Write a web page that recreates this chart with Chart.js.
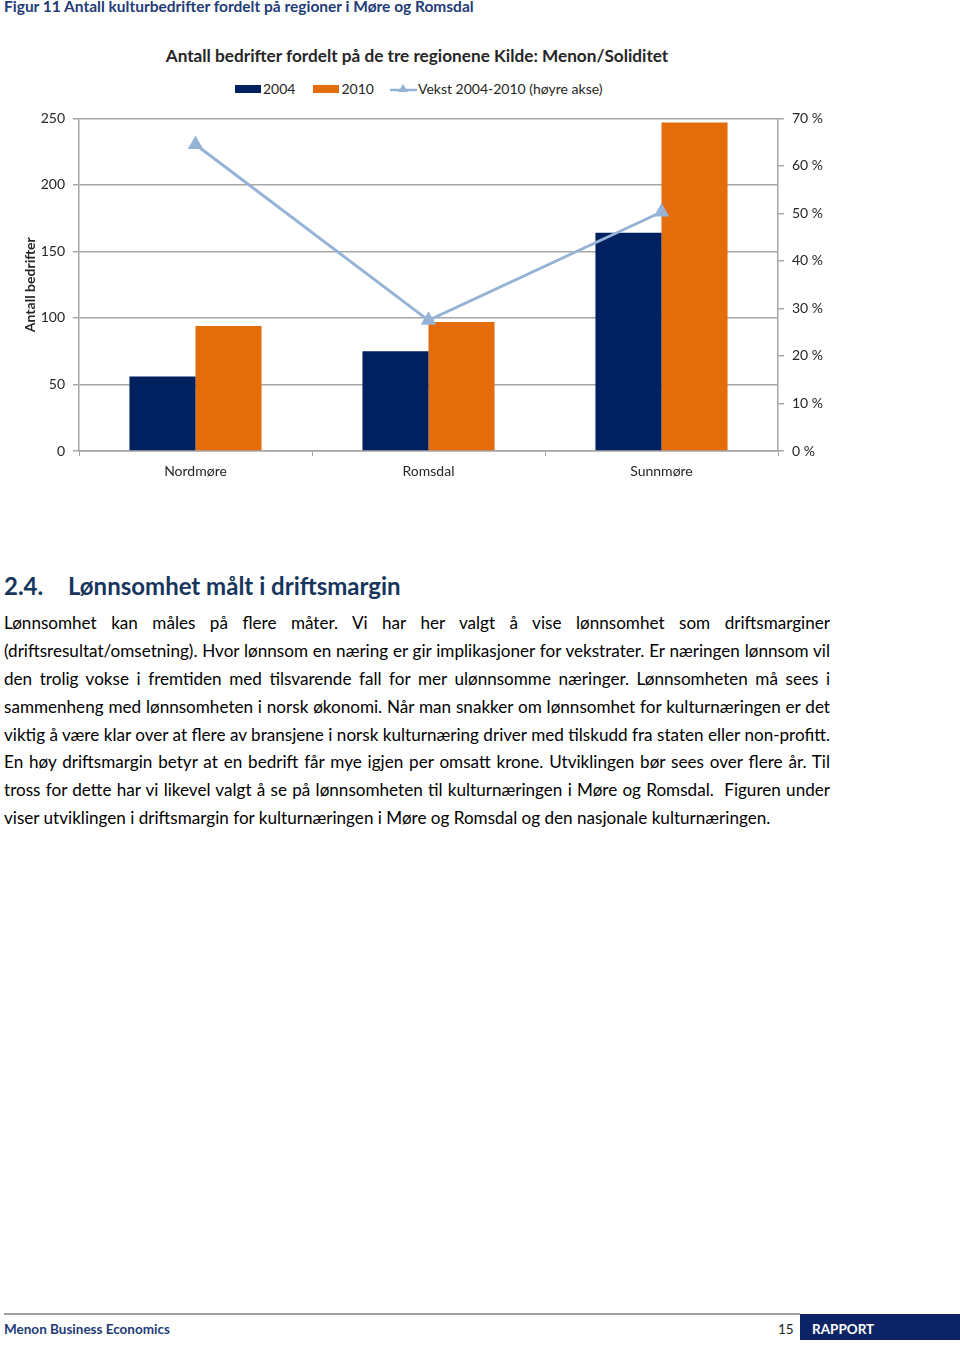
<!DOCTYPE html>
<html>
<head>
<meta charset="utf-8">
<script src="https://cdn.jsdelivr.net/npm/chart.js@4"></script>
<style>
  html, body { margin:0; padding:0; background:#fff; }
  body { width:960px; height:1345px; position:relative; overflow:hidden; font-family: Lato, "Open Sans", sans-serif; color:#000; }
  .abs { position:absolute; white-space:nowrap; }
  #figtitle { left:4px; top:-3px; font-size:15.5px; font-weight:bold; color:#1f3c78; }
  #ctitle { left:0; width:834px; text-align:center; top:45px; font-size:17.2px; font-weight:bold; color:#262626; }
  #legend { top:80px; left:235px; font-size:14px; color:#262626; display:flex; align-items:center; }
  #legend .item { display:flex; align-items:center; margin-right:18px; }
  #legend .box { width:26px; height:8px; margin-right:2px; }
  #chartwrap { position:absolute; left:0; top:102px; width:850px; height:398px; }
  #heading { left:4px; top:571px; font-size:24px; font-weight:bold; color:#17365d; }
  #heading span.num { display:inline-block; width:64px; }
  #para { position:absolute; left:4px; top:609px; width:826px; font-size:17.1px; line-height:27.9px; color:#000; }
  #para .l { text-align:justify; text-align-last:justify; white-space:normal; height:27.9px; }
  #para .last { text-align:left; text-align-last:left; }
  #fline { position:absolute; left:4px; top:1313px; width:796px; height:2px; background:#a0a0a0; }
  #fbox { position:absolute; left:800px; top:1314px; width:160px; height:26px; background:#0c2466; }
  #fleft { left:4px; top:1321px; font-size:13.5px; font-weight:bold; color:#1f3c78; }
  #fnum { left:778px; top:1321px; font-size:13.5px; color:#222; }
  #frap { left:812px; top:1321px; font-size:13.5px; font-weight:bold; color:#fff; }
</style>
</head>
<body>
<div id="figtitle" class="abs">Figur 11 Antall kulturbedrifter fordelt på regioner i Møre og Romsdal</div>
<div id="ctitle" class="abs">Antall bedrifter fordelt på de tre regionene Kilde: Menon/Soliditet</div>
<div id="legend" class="abs">
  <div class="item"><div class="box" style="background:#002060"></div>2004</div>
  <div class="item"><div class="box" style="background:#e46c0a"></div>2010</div>
  <div class="item" style="margin-left:-2px"><svg width="27" height="14" style="margin-right:1px"><line x1="0" y1="8" x2="27" y2="8" stroke="#95b3d7" stroke-width="2.5"/><polygon points="13,2 18,10 8,10" fill="#95b3d7"/></svg>Vekst 2004-2010 (høyre akse)</div>
</div>
<div id="chartwrap"><canvas id="c"></canvas></div>

<div id="heading" class="abs"><span class="num">2.4.</span>Lønnsomhet målt i driftsmargin</div>
<div id="para">
  <div class="l">Lønnsomhet kan måles på flere måter. Vi har her valgt å vise lønnsomhet som driftsmarginer</div>
  <div class="l">(driftsresultat/omsetning). Hvor lønnsom en næring er gir implikasjoner for vekstrater. Er næringen lønnsom vil</div>
  <div class="l">den trolig vokse i fremtiden med tilsvarende fall for mer ulønnsomme næringer. Lønnsomheten må sees i</div>
  <div class="l">sammenheng med lønnsomheten i norsk økonomi. Når man snakker om lønnsomhet for kulturnæringen er det</div>
  <div class="l">viktig å være klar over at flere av bransjene i norsk kulturnæring driver med tilskudd fra staten eller non-profitt.</div>
  <div class="l">En høy driftsmargin betyr at en bedrift får mye igjen per omsatt krone. Utviklingen bør sees over flere år. Til</div>
  <div class="l">tross for dette har vi likevel valgt å se på lønnsomheten til kulturnæringen i Møre og Romsdal.&nbsp; Figuren under</div>
  <div class="l last">viser utviklingen i driftsmargin for kulturnæringen i Møre og Romsdal og den nasjonale kulturnæringen.</div>
</div>

<div id="fline"></div>
<div id="fbox"></div>
<div id="fleft" class="abs">Menon Business Economics</div>
<div id="fnum" class="abs">15</div>
<div id="frap" class="abs">RAPPORT</div>

<script>
const categories = ["Nordmøre", "Romsdal", "Sunnmøre"];
const values2004 = [56, 75, 164];
const values2010 = [94, 97, 247];
const growthPct = [64.5, 27.5, 50.3];
const leftTicks = [0, 50, 100, 150, 200, 250];
const rightTicks = [0, 10, 20, 30, 40, 50, 60, 70];

const gridColor = "#a6a6a6";
const tickFont = { family: "Lato, 'Open Sans', sans-serif", size: 14 };

new Chart(document.getElementById("c"), {
  data: {
    labels: categories,
    datasets: [
      { type: "line", label: "Vekst 2004-2010 (høyre akse)", data: growthPct, yAxisID: "y1",
        borderColor: "#95b3d7", backgroundColor: "#95b3d7", borderWidth: 3,
        pointStyle: "triangle", pointRadius: 6, pointHoverRadius: 6, tension: 0, order: 0 },
      { type: "bar", label: "2004", data: values2004, yAxisID: "y", backgroundColor: "#002060",
        categoryPercentage: 0.567, barPercentage: 1.0, order: 1 },
      { type: "bar", label: "2010", data: values2010, yAxisID: "y", backgroundColor: "#e46c0a",
        categoryPercentage: 0.567, barPercentage: 1.0, order: 1 }
    ]
  },
  options: {
    responsive: true,
    maintainAspectRatio: false,
    animation: false,
    layout: { padding: { left: 18, top: 0, right: 0, bottom: 0 } },
    plugins: { legend: { display: false }, title: { display: false }, tooltip: { enabled: false } },
    scales: {
      x: {
        offset: true,
        grid: { display: true, drawOnChartArea: false, drawTicks: true, tickLength: 5, color: gridColor, offset: true },
        border: { color: gridColor, width: 1.5 },
        ticks: { font: tickFont, color: "#262626", padding: 7 },
        afterFit: s => { s.height = 49; }
      },
      y: {
        position: "left",
        min: 0, max: 250,
        afterBuildTicks: s => { s.ticks = leftTicks.map(v => ({ value: v })); },
        grid: { color: gridColor, lineWidth: 1.5, tickLength: 6 },
        border: { color: gridColor, width: 1.5 },
        ticks: { font: tickFont, color: "#262626", padding: 8 },
        title: { display: true, text: "Antall bedrifter", font: { family: "Lato, 'Open Sans', sans-serif", size: 14, weight: "bold" }, color: "#262626", padding: 4 },
        afterFit: s => { s.width = 61; }
      },
      y1: {
        position: "right",
        min: 0, max: 70,
        afterBuildTicks: s => { s.ticks = rightTicks.map(v => ({ value: v })); },
        grid: { drawOnChartArea: false, color: gridColor, lineWidth: 1.5, tickLength: 6 },
        border: { color: gridColor, width: 1.5 },
        ticks: { font: tickFont, color: "#262626", padding: 8, callback: v => v + " %" },
        afterFit: s => { s.width = 72; }
      }
    }
  }
});
</script>
</body>
</html>
